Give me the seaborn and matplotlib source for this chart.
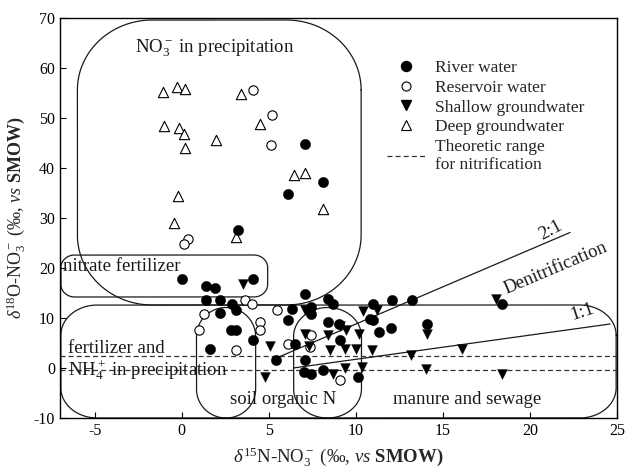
import numpy as np
import matplotlib
matplotlib.use("Agg")
import matplotlib.pyplot as plt
from matplotlib.lines import Line2D
import seaborn as sns

# ---------------- data ----------------
river_x = [7.1, 8.1, 6.1, 3.2, 0.0, 4.1, 1.4, 1.9, 1.4, 2.2, 2.9, 3.1, 2.2, 2.8, 3.1, 4.1, 1.6, 5.4,
           6.3, 6.1, 7.1, 8.4, 8.7, 7.4, 7.4, 8.4, 9.05, 9.1, 6.5, 7.1, 7.0, 7.4, 8.1, 10.1,
           11.0, 10.8, 11.0, 11.35, 12.0, 12.1, 13.2, 14.1, 18.4]
river_y = [44.8, 37.2, 34.8, 27.7, 17.9, 17.8, 16.4, 16.1, 13.6, 13.7, 12.9, 11.7, 11.1, 7.7, 7.7, 5.7, 3.9, 1.7,
           11.8, 9.6, 14.8, 13.9, 12.8, 12.3, 10.9, 9.3, 8.9, 5.7, 4.9, 1.7, -0.7, -1.1, -0.4, -1.7,
           12.8, 9.9, 9.6, 7.2, 8.0, 13.7, 13.7, 8.9, 12.8]

res_x = [4.1, 5.2, 5.1, 0.35, 0.1, 3.6, 4.05, 1.25, 1.0, 4.5, 4.5, 3.1, 5.45, 6.1, 7.4, 7.35, 9.1]
res_y = [55.7, 50.7, 44.7, 25.8, 24.9, 13.6, 12.9, 10.9, 7.7, 9.2, 7.6, 3.7, 11.7, 4.8, 6.6, 4.3, -2.35]

shal_x = [3.5, 5.06, 4.75, 7.05, 7.05, 8.39, 9.1, 9.45, 10.2, 7.3, 8.52, 9.38, 10.0, 10.95, 8.7, 9.4,
          10.36, 10.43, 11.2, 13.16, 16.09, 14.02, 18.42, 14.1, 18.05]
shal_y = [16.9, 4.5, -1.7, 11.6, 6.9, 6.7, 8.4, 7.7, 6.9, 4.5, 3.6, 3.8, 3.8, 3.6, -1.1, 0.1,
          0.3, 11.5, 11.7, 2.6, 3.9, -0.1, -1.1, 6.9, 13.9]

deep_x = [-1.1, -0.3, 0.17, 3.42, -1.0, -0.18, 0.13, 1.98, 0.21, 4.47, 6.44, 7.1, 8.1, -0.22, -0.46, 3.13]
deep_y = [55.3, 56.3, 55.9, 54.9, 48.4, 48.1, 46.8, 45.6, 44.0, 48.8, 38.7, 39.1, 31.8, 34.4, 29.1, 26.3]

# theoretic nitrification range (delta18O)
nitrif_levels = [2.5, -0.4]
# denitrification trend lines (endpoints)
line21_x = [5.3, 22.3]
line21_y = [1.8, 27.1]
line11_x = [6.4, 24.6]
line11_y = [0.0, 8.8]

xticks = [-5, 0, 5, 10, 15, 20, 25]
yticks = [-10, 0, 10, 20, 30, 40, 50, 60, 70]

# ---------------- style ----------------
sns.set_theme(style="ticks")
plt.rcParams.update({
    "font.family": ["Liberation Serif", "DejaVu Serif"],
    "mathtext.fontset": "custom",
    "mathtext.rm": "Liberation Serif",
    "mathtext.it": "Liberation Serif:italic",
    "mathtext.bf": "Liberation Serif:bold",
    "axes.unicode_minus": False,
    "xtick.direction": "in",
    "ytick.direction": "in",
    "axes.edgecolor": "black",
    "axes.linewidth": 1.0,
})

fig = plt.figure(figsize=(6.25, 4.7), dpi=100)
ax = fig.add_axes([60 / 625, 1 - 418 / 470, 557 / 625, 400 / 470])
ax.set_xlim(-7, 25)
ax.set_ylim(-10, 70)


def rounded_rect(x0, x1, y0, y1, rx, ry, n=40):
    t = np.linspace(0, np.pi / 2, n)
    parts = []
    for cx, cy, a0 in [(x1 - rx, y1 - ry, 0.0), (x0 + rx, y1 - ry, np.pi / 2),
                       (x0 + rx, y0 + ry, np.pi), (x1 - rx, y0 + ry, 1.5 * np.pi)]:
        a = a0 + t
        parts.append(np.column_stack([cx + rx * np.cos(a), cy + ry * np.sin(a)]))
    parts.append(parts[0][:1])
    return np.vstack(parts)


shape_kw = dict(color="#1a1a1a", lw=0.9, zorder=1)
for (x0, x1, y0, y1, rx, ry) in [
    (-6.0, 10.3, 12.6, 69.6, 4.3, 14.0),    # NO3- in precipitation
    (-6.95, 4.93, 14.2, 22.6, 0.8, 2.5),    # nitrate fertilizer
    (-6.95, 24.95, -10.0, 12.6, 2.1, 6.0),  # fertilizer / manure big box
    (0.84, 4.24, -10.0, 12.1, 1.7, 5.8),    # soil organic N
    (6.42, 10.32, -10.0, 12.1, 1.95, 5.8),  # second stadium
]:
    p = rounded_rect(x0, x1, y0, y1, rx, ry)
    ax.plot(p[:, 0], p[:, 1], **shape_kw)

for lvl in nitrif_levels:
    ax.axhline(lvl, color="#333333", lw=0.9, ls=(0, (4, 2.5)), zorder=1)

ax.plot(line21_x, line21_y, color="#1a1a1a", lw=0.9, zorder=1)
ax.plot(line11_x, line11_y, color="#1a1a1a", lw=0.9, zorder=1)

sns.scatterplot(x=deep_x, y=deep_y, marker="^", s=55, color="white", edgecolor="black",
                linewidth=0.8, ax=ax, zorder=3, legend=False)
sns.scatterplot(x=res_x, y=res_y, marker="o", s=45, color="white", edgecolor="black",
                linewidth=0.8, ax=ax, zorder=3, legend=False)
sns.scatterplot(x=river_x, y=river_y, marker="o", s=55, color="black", edgecolor="black",
                linewidth=0.3, ax=ax, zorder=4, legend=False)
sns.scatterplot(x=shal_x, y=shal_y, marker="v", s=50, color="black", edgecolor="black",
                linewidth=0.3, ax=ax, zorder=4, legend=False)

# region labels
tk = dict(fontsize=13.5, color="#1a1a1a")
ax.text(1.86, 63.9, r"NO$_3^-$ in precipitation", ha="center", va="center", **tk)
ax.text(-6.85, 20.3, "nitrate fertilizer", ha="left", va="center", **tk)
ax.text(-6.55, 3.9, "fertilizer and", ha="left", va="center", **tk)
ax.text(-6.55, -0.4, r"NH$_4^+$ in precipitation", ha="left", va="center", **tk)
ax.text(5.84, -6.4, "soil organic N", ha="center", va="center", **tk)
ax.text(16.4, -6.2, "manure and sewage", ha="center", va="center", **tk)
ax.text(21.2, 27.6, "2:1", ha="center", va="center", rotation=28, **tk)
ax.text(21.5, 20.0, "Denitrification", ha="center", va="center", rotation=23, **tk)
ax.text(23.0, 11.2, "1:1", ha="center", va="center", rotation=18, **tk)

# legend
handles = [
    Line2D([], [], ls="none", marker="o", ms=7.2, mfc="black", mec="black"),
    Line2D([], [], ls="none", marker="o", ms=6.5, mfc="white", mec="black", mew=0.8),
    Line2D([], [], ls="none", marker="v", ms=6.8, mfc="black", mec="black"),
    Line2D([], [], ls="none", marker="^", ms=7.0, mfc="white", mec="black", mew=0.8),
    Line2D([], [], color="#333333", lw=0.9, ls=(0, (4, 2.5))),
]
labels = ["River water", "Reservoir water", "Shallow groundwater", "Deep groundwater",
          "Theoretic range\nfor nitrification"]
ax.legend(handles, labels, loc="upper left", bbox_to_anchor=(0.565, 0.925), frameon=False,
          fontsize=12.5, handlelength=2.2, handletextpad=0.6, labelspacing=0.2,
          borderpad=0.2)

ax.set_xticks(xticks)
ax.set_yticks(yticks)
ax.tick_params(labelsize=11.5, length=4, width=0.8, colors="black")
ax.set_xlabel(r"$\delta^{15}$N-NO$_3^-$ (‰, $vs$ $\mathbf{SMOW)}$", fontsize=13.5, labelpad=5)
ax.set_ylabel(r"$\delta^{18}$O-NO$_3^-$ (‰, $vs$ $\mathbf{SMOW)}$", fontsize=13, labelpad=4)

fig.savefig("out.png", dpi=100)
